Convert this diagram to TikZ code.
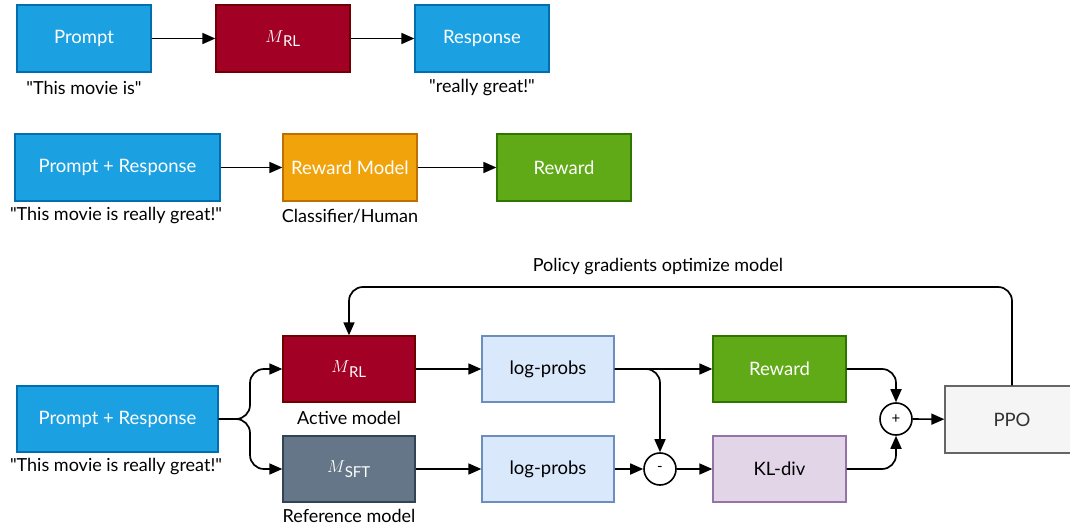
\documentclass[tikz,border=0pt]{standalone}
\usepackage{fontspec}
\setmainfont{Lato}[Ligatures=TeXOff]
\usetikzlibrary{arrows.meta}

\definecolor{bluefill}{HTML}{1BA1E2}\definecolor{bluedraw}{HTML}{006EAF}
\definecolor{redfill}{HTML}{A20025}\definecolor{reddraw}{HTML}{6F0000}
\definecolor{orangefill}{HTML}{F0A30A}\definecolor{orangedraw}{HTML}{BD7000}
\definecolor{greenfill}{HTML}{60A917}\definecolor{greendraw}{HTML}{2D7600}
\definecolor{slatefill}{HTML}{647687}\definecolor{slatedraw}{HTML}{314354}
\definecolor{paleblue}{HTML}{DAE8FC}\definecolor{paleblueedge}{HTML}{6C8EBF}
\definecolor{palepurple}{HTML}{E1D5E7}\definecolor{palepurpleedge}{HTML}{9673A6}
\definecolor{greyfill}{HTML}{F5F5F5}\definecolor{greydraw}{HTML}{666666}
\definecolor{greytext}{HTML}{333333}

\newcommand{\modelname}[1]{$M$\kern-0.5pt\textsubscript{\fontsize{15}{16}\selectfont #1}}

\tikzset{
  box/.style={draw, line width=1.3pt, minimum width=134pt, minimum height=67pt,
    inner sep=0pt, font=\fontsize{18.5}{22}\selectfont},
  bluebox/.style={box, fill=bluefill, draw=bluedraw, text=white},
  redbox/.style={box, fill=redfill, draw=reddraw, text=white},
  orangebox/.style={box, fill=orangefill, draw=orangedraw, text=white},
  greenbox/.style={box, fill=greenfill, draw=greendraw, text=white},
  slatebox/.style={box, fill=slatefill, draw=slatedraw, text=white},
  probbox/.style={box, fill=paleblue, draw=paleblueedge, text=black},
  klbox/.style={box, fill=palepurple, draw=palepurpleedge, text=black},
  ppobox/.style={box, fill=greyfill, draw=greydraw, text=greytext},
  caption/.style={inner sep=0pt, font=\fontsize{18}{22}\selectfont, text=black},
  opcircle/.style={draw, line width=1.6pt, circle, minimum size=32pt, inner sep=0pt,
    fill=white, font=\fontsize{15}{16}\selectfont},
  flow/.style={line width=1.7pt, -{Triangle[length=13pt,width=11pt]}, rounded corners=14pt},
}

\begin{document}
\begin{tikzpicture}[x=1pt,y=-1pt]
\useasboundingbox (0,0) rectangle (1070,529);

% --- generation: prompt -> policy -> response
\node[bluebox] (prompt) at (84,38.5) {Prompt};
\node[redbox] (mrl1) at (283,38.5) {\modelname{RL}};
\node[bluebox] (resp) at (482,38.5) {Response};
\node[caption] (promptTxt) at (84,88) {"This movie is"};
\node[caption] (respTxt) at (482,88) {"really great!"};
\draw[flow] (prompt) -- (mrl1);
\draw[flow] (mrl1) -- (resp);

% --- scoring: prompt+response -> reward model -> reward
\node[bluebox, minimum width=205pt] (pr2) at (117.5,167.5) {Prompt + Response};
\node[orangebox] (rm) at (350,167.5) {Reward Model};
\node[greenbox] (rw2) at (564,167.5) {Reward};
\node[caption] (pr2Txt) at (116,216) {"This movie is really great!"};
\node[caption] (rmTxt) at (350,216) {Classifier/Human};
\draw[flow] (pr2) -- (rm);
\draw[flow] (rm) -- (rw2);

% --- RLHF update loop
\node[bluebox, minimum width=201pt, minimum height=66pt] (pr3) at (117.5,419) {Prompt + Response};
\node[caption] (pr3Txt) at (116,467) {"This movie is really great!"};
\node[redbox, minimum width=132pt, minimum height=66pt] (mrl) at (349,369) {\modelname{RL}};
\node[caption] (mrlTxt) at (349,418) {Active model};
\node[slatebox, minimum width=132pt, minimum height=66pt] (msft) at (349,469) {\modelname{SFT}};
\node[caption] (msftTxt) at (349,516) {Reference model};
\node[probbox, minimum width=132pt, minimum height=66pt] (lp1) at (548,369) {log-probs};
\node[probbox, minimum width=132pt, minimum height=66pt] (lp2) at (548,469) {log-probs};
\node[greenbox, minimum width=133pt, minimum height=66pt] (rw3) at (779.5,369) {Reward};
\node[klbox, minimum width=133pt, minimum height=66pt] (kl) at (779.5,469) {KL-div};
\node[opcircle] (minus) at (660,469) {-};
\node[opcircle] (plus) at (896,419) {+};
\node[ppobox, minimum height=67pt] (ppo) at (1012,419.5) {PPO};
\node[caption] (pgTxt) at (658,267) {Policy gradients optimize model};

\draw[flow] (pr3.east) -- (250,419) -- (250,369) -- (mrl.west);
\draw[flow] (pr3.east) -- (250,419) -- (250,469) -- (msft.west);
\draw[flow] (mrl) -- (lp1);
\draw[flow] (msft) -- (lp2);
\draw[flow] (lp1) -- (rw3);
\draw[flow] (lp1.east) -- (660,369) -- (minus.north);
\draw[flow] (lp2) -- (minus);
\draw[flow] (minus) -- (kl);
\draw[flow] (rw3.east) -- (896,369) -- (plus.north);
\draw[flow] (kl.east) -- (896,469) -- (plus.south);
\draw[flow] (plus) -- (ppo);
\draw[flow] (ppo.north) -- (1012,287) -- (349,287) -- (mrl.north);
\end{tikzpicture}
\end{document}
